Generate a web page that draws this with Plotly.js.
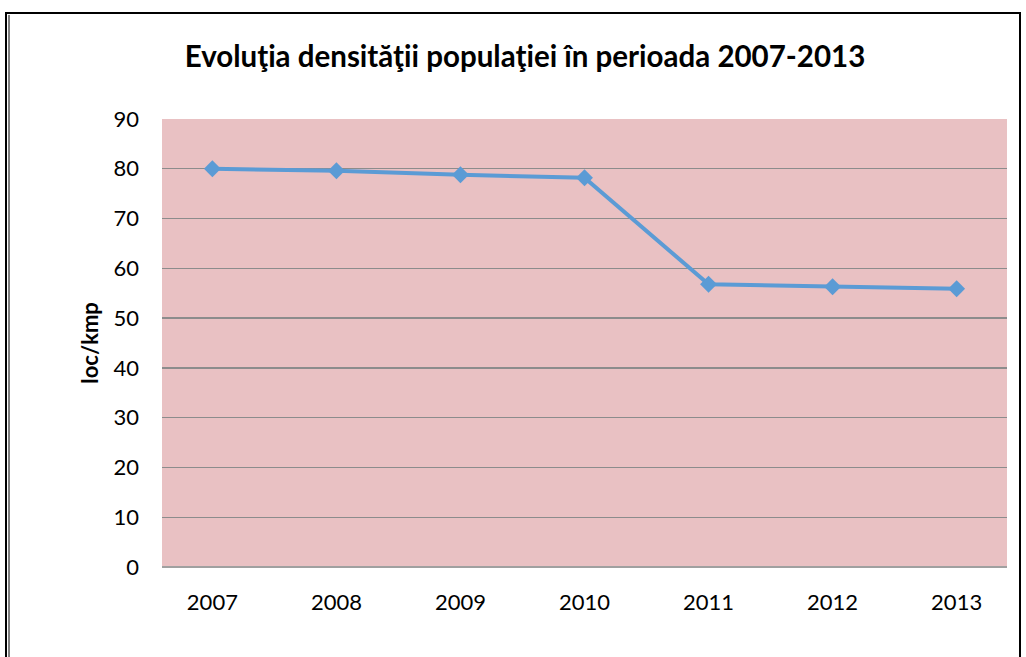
<!DOCTYPE html>
<html><head><meta charset="utf-8">
<script src="https://cdn.plot.ly/plotly-3.0.1.min.js"></script>
<style>html,body{margin:0;padding:0;background:#fff}#c{width:1026px;height:657px}</style>
</head><body><div id="c"></div>
<script>
const years = ['2007','2008','2009','2010','2011','2012','2013'];
const density = [80, 79.6, 78.8, 78.2, 56.8, 56.3, 55.9];
const yTicks = [0,10,20,30,40,50,60,70,80,90];

const L=162, R=19, T=119, B=90, W=1026, H=657;
const pw = W-L-R, ph = H-T-B;
function px(x){return (x-L)/pw;}
function py(y){return (H-B-y)/ph;}

const trace = {
  x: years, y: density, type:'scatter', mode:'lines+markers',
  line:{color:'#5b9bd5', width:4},
  marker:{symbol:'diamond', size:13, color:'#5b9bd5'},
  hoverinfo:'skip'
};
const layout = {
  width:W, height:H,
  margin:{l:L, r:R, t:T, b:B},
  paper_bgcolor:'#ffffff',
  plot_bgcolor:'#e9c1c3',
  showlegend:false,
  font:{family:'Lato, "Open Sans", sans-serif', color:'#000'},
  title:{text:'<b>Evoluţia densităţii populaţiei în perioada 2007-2013</b>',
    font:{size:29.5, family:'Lato, "Open Sans", sans-serif', color:'#000'},
    x:525/W, xanchor:'center', y:1-57/H, yanchor:'middle', xref:'container', yref:'container'},
  xaxis:{type:'category', showgrid:false, zeroline:false,
    tickfont:{size:22}, ticks:'', showline:false, ticklabelstandoff:20},
  yaxis:{range:[0,90], tickvals:yTicks, showgrid:true, gridcolor:'#8c8c8c', gridwidth:1.3,
    zeroline:false, showline:false, ticks:'', tickfont:{size:22}, ticklabelstandoff:22,
    title:{text:'<b>loc/kmp</b>', font:{size:22}, standoff:8}},
  shapes:[
    {type:'line', xref:'paper', yref:'paper', x0:0, x1:1, y0:0, y1:0, line:{color:'#a0a0a0', width:2}},
    {type:'rect', xref:'paper', yref:'paper', x0:px(6), x1:px(1020), y0:py(13), y1:py(660), line:{color:'#000', width:2}, fillcolor:'rgba(0,0,0,0)', layer:'above'},
    {type:'line', xref:'paper', yref:'paper', x0:px(9), x1:px(9), y0:py(15), y1:py(660), line:{color:'#000', width:1}}
  ]
};
Plotly.newPlot('c',[trace],layout,{displayModeBar:false, staticPlot:true});
</script></body></html>
